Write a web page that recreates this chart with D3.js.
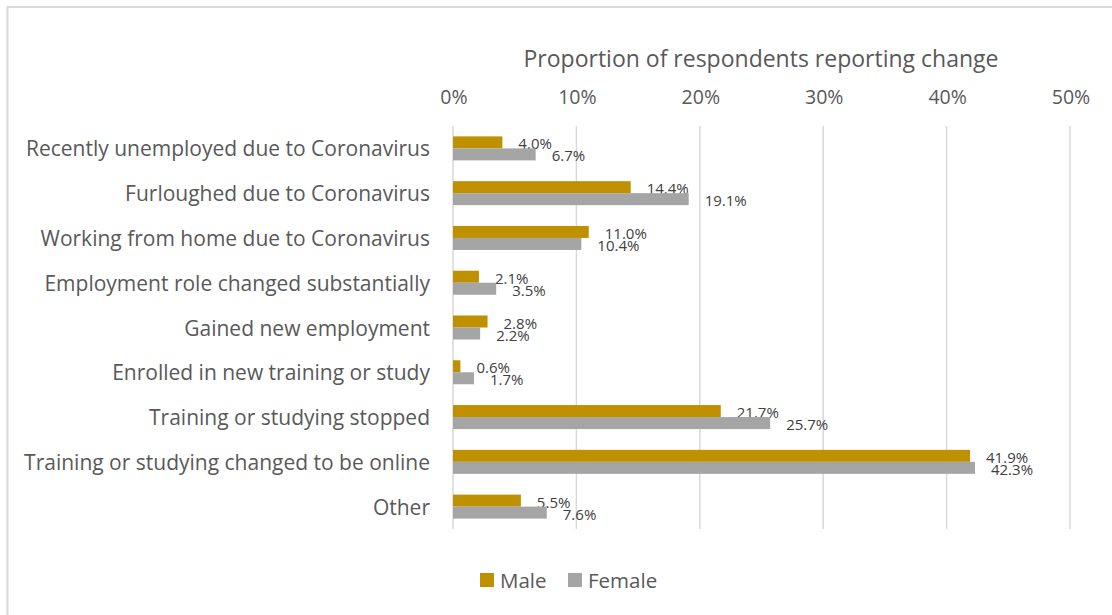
<!DOCTYPE html>
<html>
<head>
<meta charset="utf-8">
<script src="https://cdn.jsdelivr.net/npm/d3@7"></script>
<style>
  body { margin: 0; background: #fff; }
  #chart { width: 1112px; height: 615px; }
  .cat-label { font-family: "Open Sans", sans-serif; font-size: 21px; fill: #595959; }
  .tick-label { font-family: "Open Sans", sans-serif; font-size: 19.5px; fill: #595959; }
  .axis-title { font-family: "Open Sans", sans-serif; font-size: 23px; fill: #595959; }
  .value-label { font-family: "Open Sans", sans-serif; font-size: 15px; fill: #404040; }
  .legend-label { font-family: "Open Sans", sans-serif; font-size: 20.5px; fill: #595959; }
</style>
</head>
<body>
<div id="chart"></div>
<script>
var categories = [
  "Recently unemployed due to Coronavirus",
  "Furloughed due to Coronavirus",
  "Working from home due to Coronavirus",
  "Employment role changed substantially",
  "Gained new employment",
  "Enrolled in new training or study",
  "Training or studying stopped",
  "Training or studying changed to be online",
  "Other"
];
var maleValues = [4.0, 14.4, 11.0, 2.1, 2.8, 0.6, 21.7, 41.9, 5.5];
var femaleValues = [6.7, 19.1, 10.4, 3.5, 2.2, 1.7, 25.7, 42.3, 7.6];
var tickValues = [0, 10, 20, 30, 40, 50];
var seriesNames = ["Male", "Female"];
var seriesColors = ["#BF9000", "#A5A5A5"];

function drawChart(selector) {
  const width = 1112, height = 615;
  const svg = d3.select(selector).append("svg")
    .attr("width", width)
    .attr("height", height);

  // chart frame (runs off the right and bottom edge like the original)
  svg.append("rect")
    .attr("x", 7.5).attr("y", 7)
    .attr("width", width + 20).attr("height", height + 20)
    .attr("fill", "none")
    .attr("stroke", "#d9d9d9")
    .attr("stroke-width", 2);

  const plot = { left: 453, right: 1070, top: 126, bottom: 529 };

  const x = d3.scaleLinear().domain([0, 50]).range([plot.left, plot.right]);
  const y = d3.scaleBand().domain(categories).range([plot.top, plot.bottom]);
  const sub = d3.scaleBand().domain(seriesNames)
    .range([y.bandwidth() / 2 - 12, y.bandwidth() / 2 + 12]);

  // gridlines
  svg.append("g").selectAll("line")
    .data(tickValues)
    .join("line")
    .attr("x1", d => x(d)).attr("x2", d => x(d))
    .attr("y1", plot.top).attr("y2", plot.bottom)
    .attr("stroke", "#d9d9d9")
    .attr("stroke-width", 1.5);

  // tick labels on top
  svg.append("g").selectAll("text")
    .data(tickValues)
    .join("text")
    .attr("class", "tick-label")
    .attr("x", d => x(d) + 1)
    .attr("y", 96)
    .attr("text-anchor", "middle")
    .attr("dominant-baseline", "central")
    .text(d => d + "%");

  svg.append("text")
    .attr("class", "axis-title")
    .attr("x", 761)
    .attr("y", 58)
    .attr("text-anchor", "middle")
    .attr("dominant-baseline", "central")
    .text("Proportion of respondents reporting change");

  // category labels
  svg.append("g").selectAll("text")
    .data(categories)
    .join("text")
    .attr("class", "cat-label")
    .attr("x", 430)
    .attr("y", d => y(d) + y.bandwidth() / 2)
    .attr("text-anchor", "end")
    .attr("dominant-baseline", "central")
    .text(d => d);

  const series = [maleValues, femaleValues];
  series.forEach((vals, si) => {
    const name = seriesNames[si];
    const g = svg.append("g");
    g.selectAll("rect")
      .data(vals)
      .join("rect")
      .attr("x", x(0))
      .attr("y", (d, i) => y(categories[i]) + sub(name))
      .attr("width", d => x(d) - x(0))
      .attr("height", sub.bandwidth())
      .attr("fill", seriesColors[si]);

    g.selectAll("text")
      .data(vals)
      .join("text")
      .attr("class", "value-label")
      .attr("x", d => x(d) + 16)
      .attr("y", (d, i) => y(categories[i]) + sub(name) + sub.bandwidth() / 2 + 1)
      .attr("dominant-baseline", "central")
      .text(d => d.toFixed(1) + "%");
  });

  // legend
  const legendX = [480, 568];
  const lg = svg.append("g");
  seriesNames.forEach((name, i) => {
    lg.append("rect")
      .attr("x", legendX[i]).attr("y", 573)
      .attr("width", 14).attr("height", 14)
      .attr("fill", seriesColors[i]);
    lg.append("text")
      .attr("class", "legend-label")
      .attr("x", legendX[i] + 20)
      .attr("y", 580)
      .attr("dominant-baseline", "central")
      .text(name);
  });
}

drawChart("#chart");
</script>
</body>
</html>
